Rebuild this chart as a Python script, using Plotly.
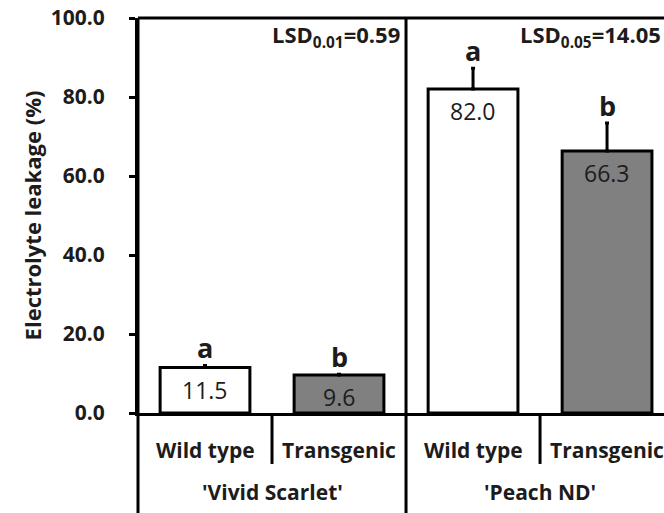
import plotly.graph_objects as go

# Electrolyte leakage per genotype within two cultivars
cultivars = ["'Vivid Scarlet'", "'Peach ND'"]
genotypes = ["Wild type", "Transgenic", "Wild type", "Transgenic"]
leakage = [11.5, 9.6, 82.0, 66.3]
leakage_err = [0.5, 0.2, 5.3, 7.1]
letters = ["a", "b", "a", "b"]
lsd_labels = ["LSD<sub>0.01</sub>=0.59", "LSD<sub>0.05</sub>=14.05"]
y_ticks = [0, 20, 40, 60, 80, 100]

FONT = "Open Sans"
INK = "#1c1c1c"
X_MAX = 3.925  # axis extent in category units

xs = [i + 0.5 for i in range(len(leakage))]
fills = ["white" if g == "Wild type" else "#808080" for g in genotypes]

fig = go.Figure()
fig.add_trace(go.Bar(
    x=xs, y=leakage, width=0.67,
    marker=dict(color=fills, line=dict(color="black", width=3)),
    error_y=dict(type="data", symmetric=False, array=leakage_err,
                 arrayminus=[0] * len(leakage), color="black",
                 thickness=3, width=2),
    showlegend=False, hoverinfo="skip",
))

ann = []
for x, v, e, l in zip(xs, leakage, leakage_err, letters):
    ann.append(dict(x=x, y=v, xref="x", yref="y", text=f"{v:.1f}",
                    showarrow=False, yanchor="middle", yshift=-22,
                    font=dict(family=FONT, size=23, color=INK)))
    ann.append(dict(x=x, y=v + e, xref="x", yref="y", text=l,
                    showarrow=False, yanchor="middle", yshift=18,
                    font=dict(family=FONT, size=27, color=INK, weight="bold")))

# genotype labels under each bar, cultivar labels under each pair
for x, g in zip(xs, genotypes):
    ann.append(dict(x=x, y=-0.093, xref="x", yref="paper", text=g,
                    showarrow=False, yanchor="middle",
                    font=dict(family=FONT, size=21, color=INK, weight="bold")))
for i, c in enumerate(cultivars):
    ann.append(dict(x=2 * i + 1, y=-0.2, xref="x", yref="paper", text=c,
                    showarrow=False, yanchor="middle",
                    font=dict(family=FONT, size=21, color=INK, weight="bold")))

# LSD values in the top-right corner of each panel
for i, t in enumerate(lsd_labels):
    ann.append(dict(x=(2 * i + 2 - 0.03) / X_MAX if i == 0 else 0.998,
                    y=0.955, xref="paper", yref="paper", text=t,
                    showarrow=False, xanchor="right", yanchor="middle",
                    font=dict(family=FONT, size=22, color=INK, weight="bold")))

BOTTOM = -0.253
shapes = [
    # left axis line continued down through the label rows
    dict(type="line", xref="paper", yref="paper", x0=0, x1=0, y0=BOTTOM, y1=1,
         line=dict(color="black", width=3)),
    # panel divider between cultivars
    dict(type="line", xref="paper", yref="paper", x0=2 / X_MAX, x1=2 / X_MAX,
         y0=BOTTOM, y1=1, line=dict(color="black", width=3)),
    # top frame line
    dict(type="line", xref="paper", yref="paper", x0=0, x1=1, y0=1, y1=1,
         line=dict(color="black", width=3)),
]
for d in (1, 3):
    shapes.append(dict(type="line", xref="paper", yref="paper",
                       x0=d / X_MAX, x1=d / X_MAX, y0=-0.129, y1=0,
                       line=dict(color="black", width=3)))

fig.update_layout(
    width=664, height=513,
    margin=dict(l=138, r=0, t=18, b=100),
    paper_bgcolor="white", plot_bgcolor="white",
    annotations=ann, shapes=shapes, showlegend=False,
    xaxis=dict(range=[0, X_MAX], showticklabels=False, ticks="",
               showgrid=False, zeroline=False, showline=True,
               linecolor="black", linewidth=3, fixedrange=True),
    yaxis=dict(range=[0, 100], tickvals=y_ticks, tickformat=".1f",
               ticks="outside", ticklen=6, tickwidth=3, tickcolor="black",
               showgrid=False, zeroline=False, showline=True,
               linecolor="black", linewidth=3, ticklabelstandoff=20,
               tickfont=dict(family=FONT, size=21, color=INK, weight="bold"),
               title=dict(text="Electrolyte leakage (%)", standoff=4,
                          font=dict(family=FONT, size=22, color=INK,
                                    weight="bold"))),
)

fig.write_html("out.html")
